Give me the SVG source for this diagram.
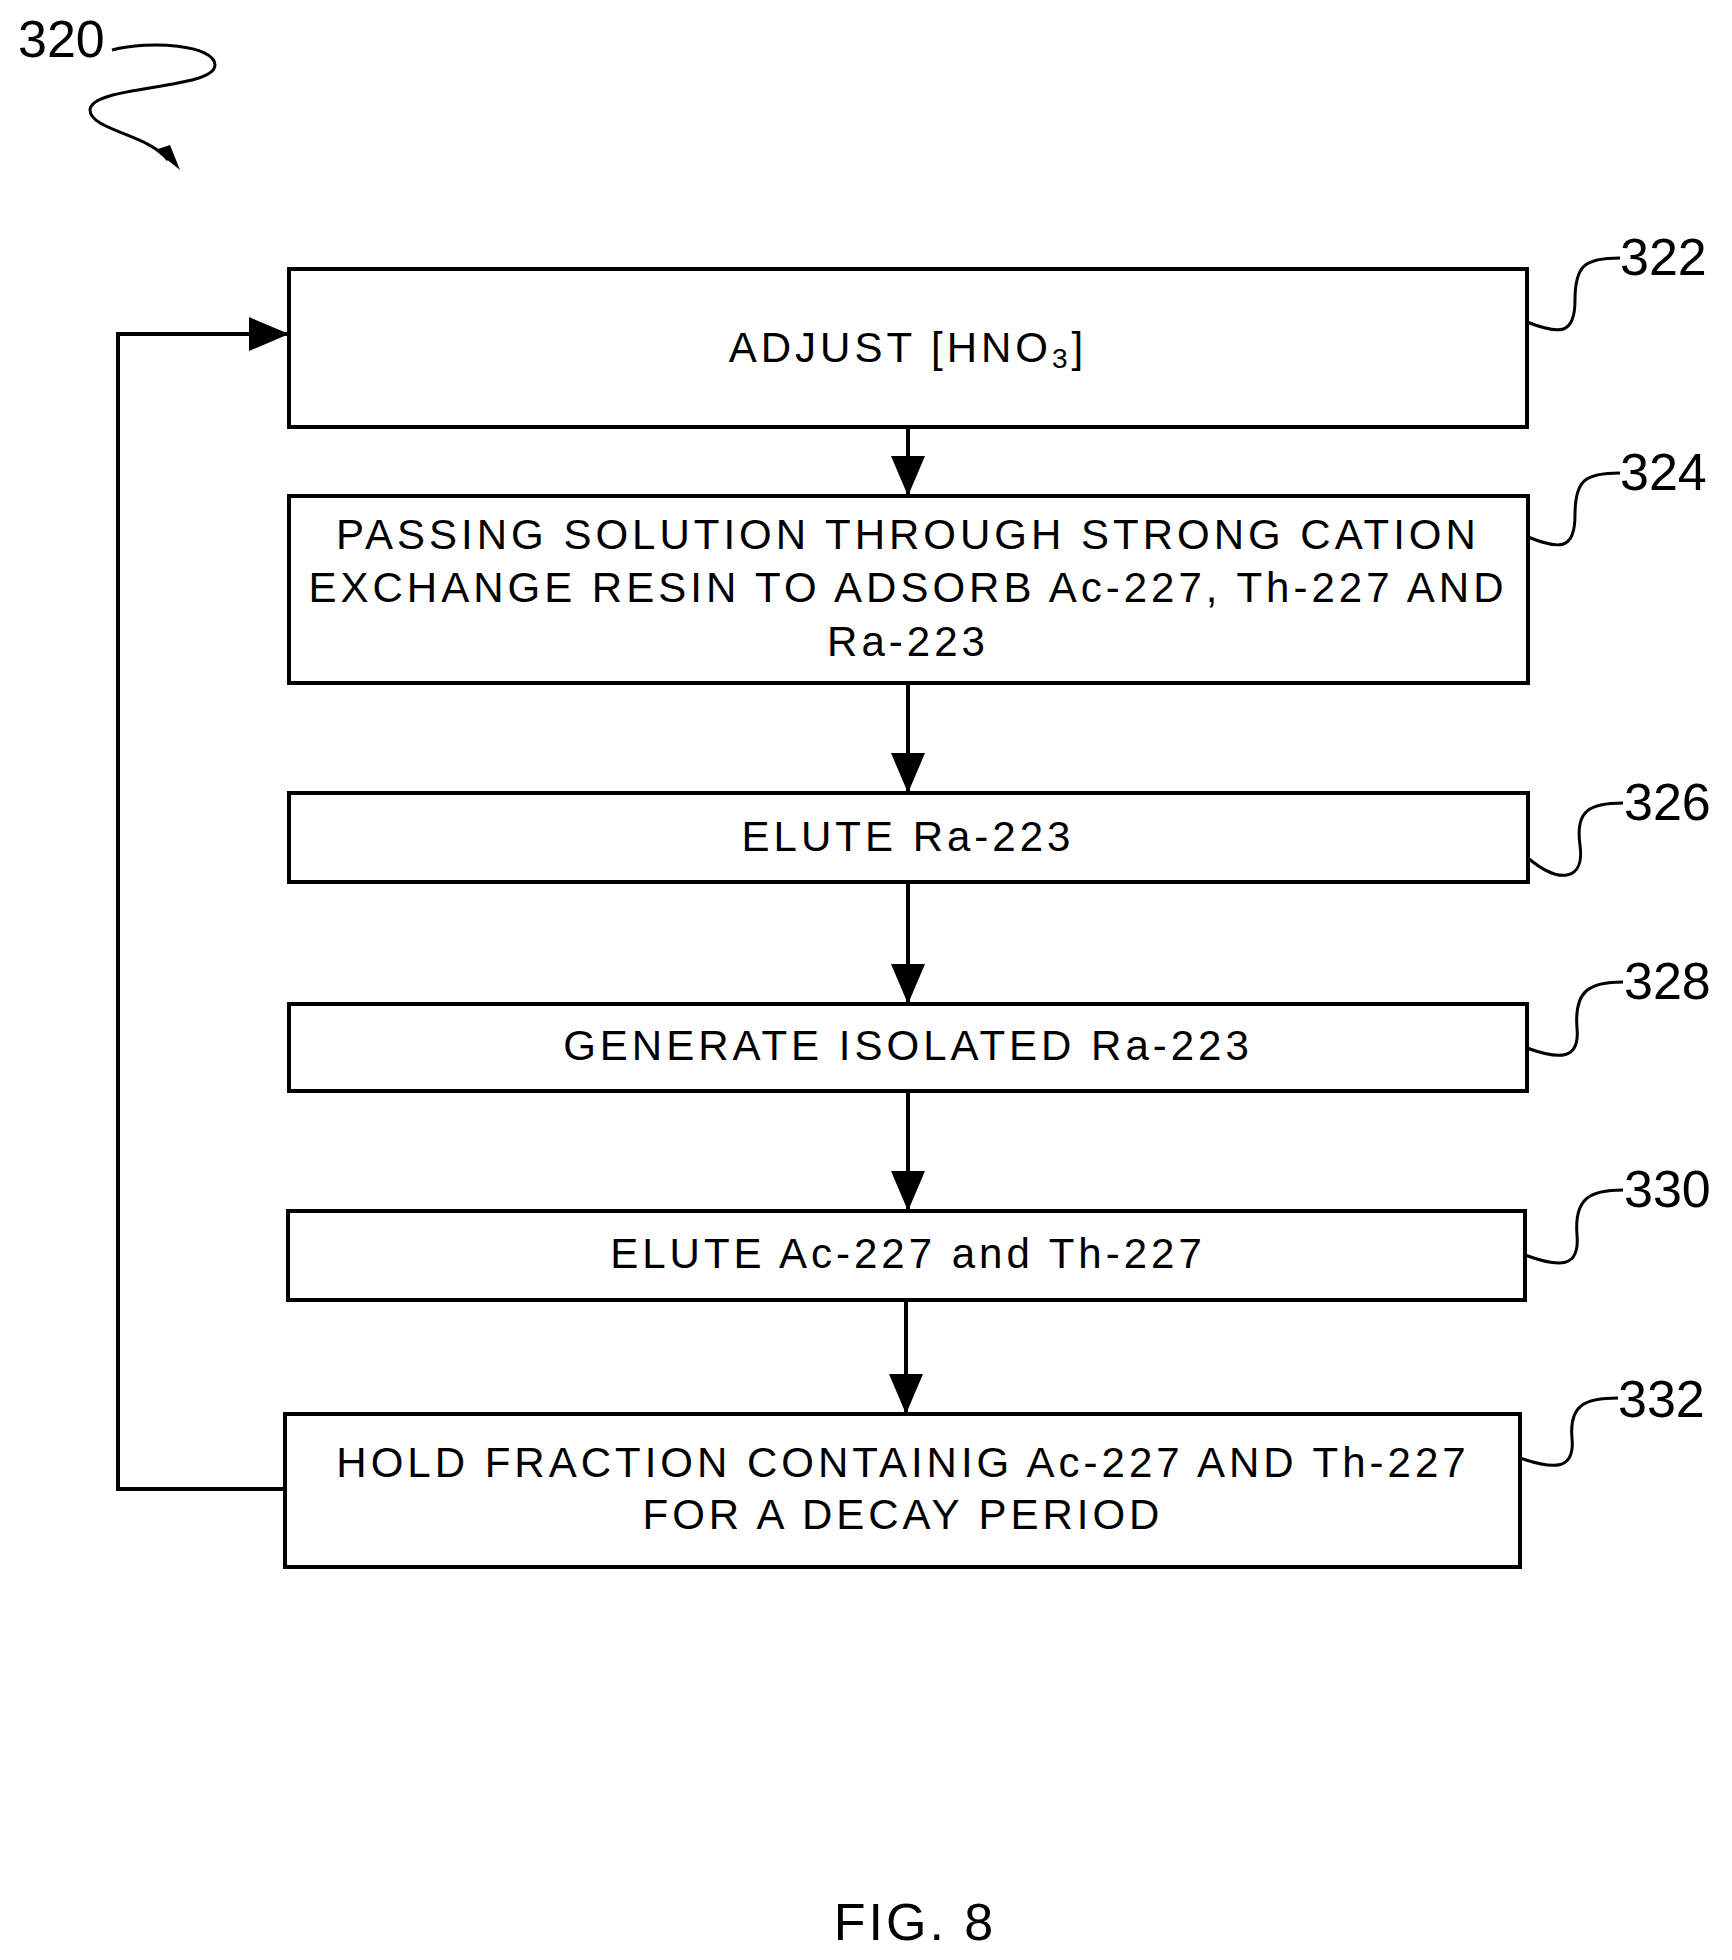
<svg xmlns="http://www.w3.org/2000/svg" width="1732" height="1960" viewBox="0 0 1732 1960">
<style>
rect{fill:#fff;stroke:#000;stroke-width:4}
text{font-family:"Liberation Sans",Arial,sans-serif;font-size:42px;fill:#000;letter-spacing:4px}
.t{text-anchor:middle}
.l{font-size:52px;letter-spacing:0}
.c{fill:none;stroke:#000;stroke-width:4}
.s{fill:none;stroke:#000;stroke-width:3}
</style>
<defs>
<marker id="b" viewBox="0 0 10 10" refX="10" refY="5" markerWidth="40" markerHeight="34" orient="auto" markerUnits="userSpaceOnUse" preserveAspectRatio="none"><path d="M0,0 L10,5 L0,10Z"/></marker></defs>
<rect width="1732" height="1960" style="stroke:none"/>
<g id="n322"><rect x="289" y="269" width="1238" height="158"/><text class="t" x="908" y="362">ADJUST [HNO<tspan font-size="28" dy="6">3</tspan><tspan dy="-6">]</tspan></text></g>
<g id="n324"><rect x="289" y="496" width="1239" height="187"/><text class="t" x="908" y="549">PASSING SOLUTION THROUGH STRONG CATION</text><text class="t" x="908" y="602">EXCHANGE RESIN TO ADSORB Ac-227, Th-227 AND</text><text class="t" x="908" y="656">Ra-223</text></g>
<g id="n326"><rect x="289" y="793" width="1239" height="89"/><text class="t" x="908" y="851">ELUTE Ra-223</text></g>
<g id="n328"><rect x="289" y="1004" width="1238" height="87"/><text class="t" x="908" y="1060">GENERATE ISOLATED Ra-223</text></g>
<g id="n330"><rect x="288" y="1211" width="1237" height="89"/><text class="t" x="908" y="1268">ELUTE Ac-227 and Th-227</text></g>
<g id="n332"><rect x="285" y="1414" width="1235" height="153"/><text class="t" x="903" y="1477">HOLD FRACTION CONTAINIG Ac-227 AND Th-227</text><text class="t" x="903" y="1529">FOR A DECAY PERIOD</text></g>
<g id="labels">
<text class="l" x="1620" y="275">322</text><text class="l" x="1620" y="490">324</text><text class="l" x="1624" y="820">326</text><text class="l" x="1624" y="999">328</text><text class="l" x="1624" y="1207">330</text><text class="l" x="1618" y="1417">332</text>
<text class="l" x="18" y="57">320</text>
<text x="915" y="1940" class="t l" style="letter-spacing:3px">FIG. 8</text>
</g>
<g id="connectors">
<path class="c" d="M908,427V496" marker-end="url(#b)"/>
<path class="c" d="M908,683V793" marker-end="url(#b)"/>
<path class="c" d="M908,882V1004" marker-end="url(#b)"/>
<path class="c" d="M908,1091V1211" marker-end="url(#b)"/>
<path class="c" d="M906,1300V1414" marker-end="url(#b)"/>
<path class="c" d="M285,1489H118V334H289" marker-end="url(#b)"/>
<path class="s" d="M1527,322C1560,335 1575,335 1575,300C1575,265 1585,258 1620,258"/>
<path class="s" d="M1528,537C1560,550 1575,550 1575,515C1575,480 1585,473 1620,473"/>
<path class="s" d="M1528,858C1560,885 1585,880 1580,845C1575,810 1590,803 1623,803"/>
<path class="s" d="M1527,1048C1560,1060 1580,1060 1577,1028C1574,990 1590,982 1623,982"/>
<path class="s" d="M1525,1255C1560,1268 1580,1268 1577,1235C1574,1198 1590,1190 1623,1190"/>
<path class="s" d="M1520,1458C1555,1470 1575,1470 1572,1438C1569,1405 1585,1398 1618,1398"/>
<path class="s" d="M112,50C150,40 215,45 215,65C215,90 90,85 90,110C90,130 150,135 168,160"/>
<path d="M155,150L180,170L170,145Z"/>
</g>
</svg>
